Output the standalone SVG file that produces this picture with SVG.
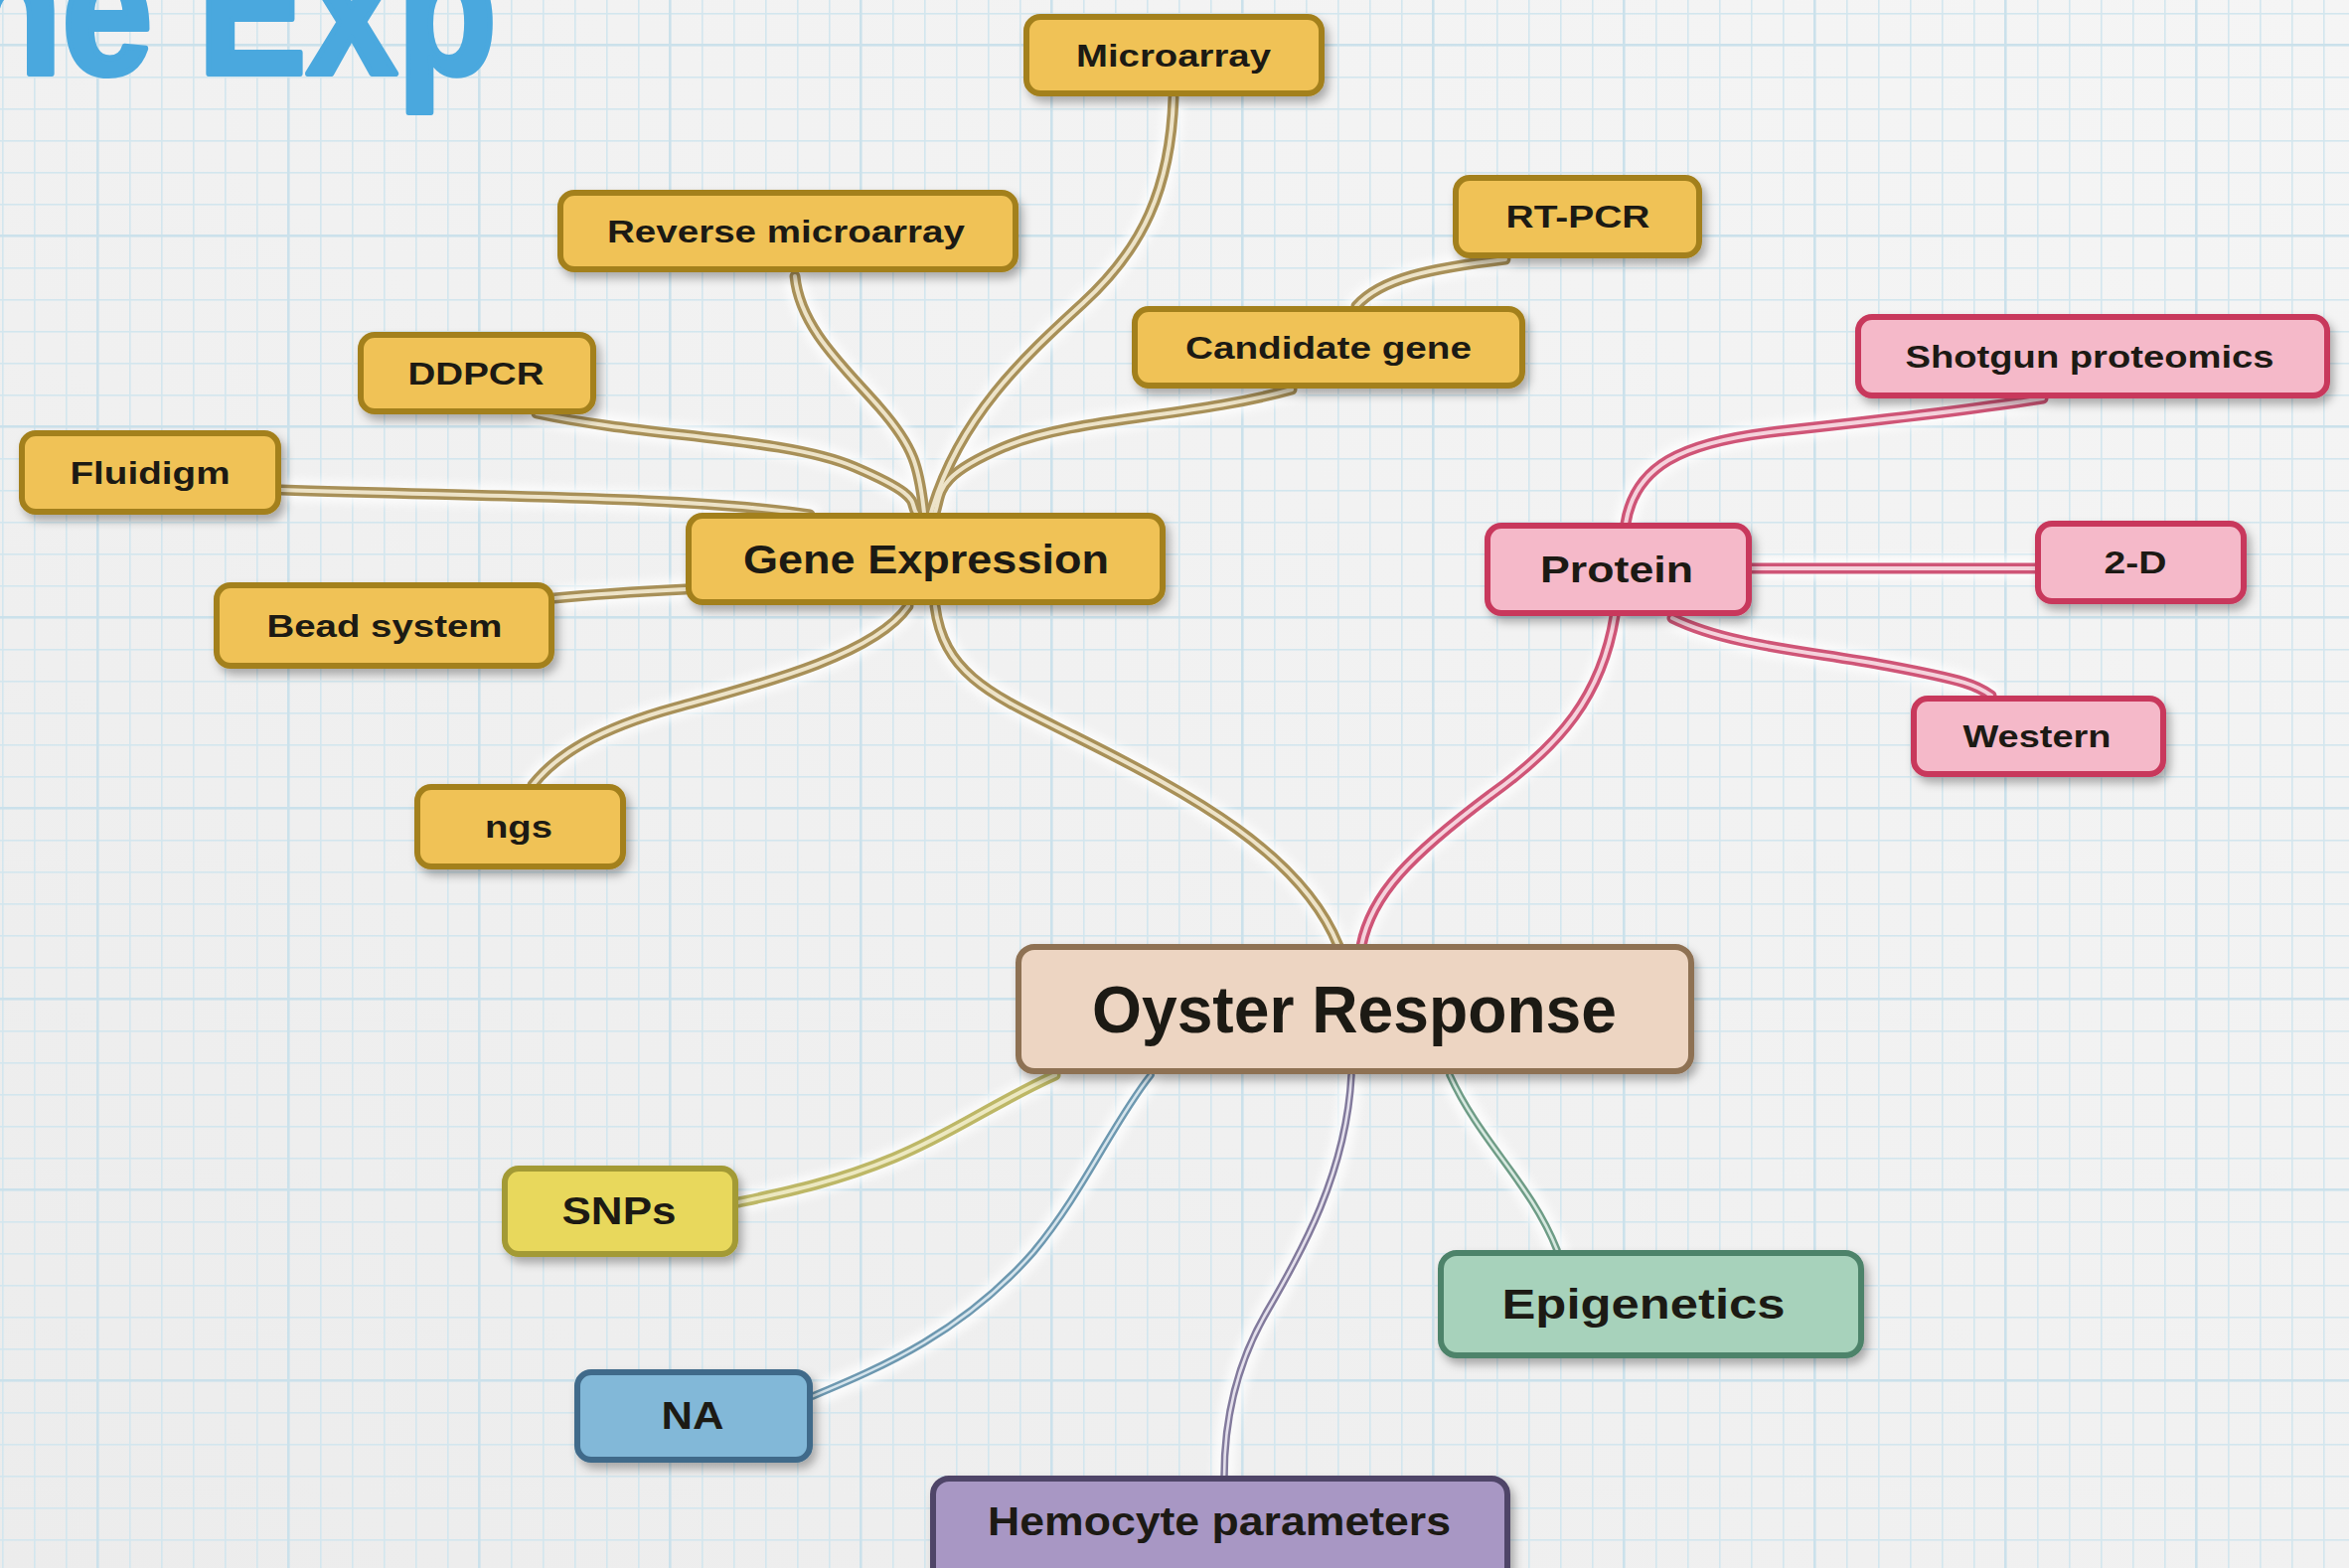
<svg xmlns="http://www.w3.org/2000/svg" width="2364" height="1578" viewBox="0 0 2364 1578">
<defs>
<linearGradient id="bg" x1="0" y1="1" x2="1" y2="0">
<stop offset="0" stop-color="#ececec"/>
<stop offset="0.5" stop-color="#f1f1f1"/>
<stop offset="1" stop-color="#f5f5f5"/>
</linearGradient>
<pattern id="grid" x="97" y="44" width="192" height="192" patternUnits="userSpaceOnUse">
<g fill="#d3e6ee">
<rect x="33" y="0" width="1.6" height="192"/><rect x="65" y="0" width="1.6" height="192"/><rect x="97" y="0" width="1.6" height="192"/><rect x="129" y="0" width="1.6" height="192"/><rect x="161" y="0" width="1.6" height="192"/>
<rect y="33" x="0" height="1.6" width="192"/><rect y="65" x="0" height="1.6" width="192"/><rect y="97" x="0" height="1.6" width="192"/><rect y="129" x="0" height="1.6" width="192"/><rect y="161" x="0" height="1.6" width="192"/>
</g>
<g fill="#cbe1eb">
<rect x="0" y="0" width="2.6" height="192"/><rect x="0" y="0" width="192" height="2.6"/>
</g>
</pattern>
<filter id="shadow" x="-20%" y="-30%" width="140%" height="170%">
<feDropShadow dx="4" dy="6" stdDeviation="5" flood-color="#000" flood-opacity="0.3"/>
</filter>
<filter id="halo" x="-10%" y="-10%" width="120%" height="120%">
<feGaussianBlur stdDeviation="4"/>
</filter>
<style>
.box{stroke-width:6;filter:url(#shadow)}
.y{fill:#f0c256;stroke:#a3801e}
.p{fill:#f5b9c9;stroke:#c8385c}
.o{fill:#edd5c2;stroke:#8e7152}
.s{fill:#e8d85c;stroke:#a39a34}
.b{fill:#82b8d8;stroke:#3f6b8a}
.g{fill:#a7d2bb;stroke:#4e836a}
.v{fill:#a897c4;stroke:#4f4468}
text.l{font-family:"Liberation Sans",Arial,Helvetica,sans-serif;font-weight:bold;fill:#1c1a14;text-anchor:middle}
.halo{fill:none;stroke:#ffffff;stroke-width:22;opacity:0.75;filter:url(#halo);stroke-linecap:round}
.ce{fill:none;stroke-width:11;stroke-linecap:round}
.ci{fill:none;stroke-width:4;stroke-linecap:round}
.ce.t{stroke-width:7.5}
.ci.t{stroke-width:2.6}
.gy{stroke:#a89058}.gyi{stroke:#ede3c8}
.pk{stroke:#cf5577}.pki{stroke:#f5d2dc}
.sn{stroke:#bdb766}.sni{stroke:#ece8c0}
.bl{stroke:#6d98b0}.bli{stroke:#d5e4ec}
.pu{stroke:#827a9c}.pui{stroke:#e4e0ec}
.te{stroke:#6e9c86}.tei{stroke:#d6e8df}
</style>
<path id="e-micro" d="M1181,98 C1178,190 1150,250 1090,305 C1030,360 965,420 937,516"/>
<path id="e-rev" d="M800,278 C805,330 850,370 885,410 S 925,470 930,516"/>
<path id="e-cand" d="M1300,392 C1200,420 1080,420 1010,450 S 948,495 941,516"/>
<path id="e-ddpcr" d="M540,416 C650,440 790,440 860,470 S 915,505 922,516"/>
<path id="e-flui" d="M283,493 C500,500 700,500 815,518"/>
<path id="e-bead" d="M558,602 C600,598 650,595 690,593"/>
<path id="e-ngs" d="M914,610 C880,660 760,690 680,712 S 560,760 536,790"/>
<path id="e-ge" d="M941,610 C950,680 1000,700 1080,740 C1200,800 1310,860 1347,952"/>
<path id="e-rt" d="M1365,308 C1390,280 1440,270 1515,261"/>
<path id="e-shot" d="M1636,527 C1645,470 1690,445 1790,434 C1900,422 2000,410 2056,401"/>
<path id="e-2d" d="M1763,572 L2048,572"/>
<path id="e-west" d="M1683,622 C1740,650 1820,655 1900,670 S 1990,690 2004,700"/>
<path id="e-prot" d="M1625,620 C1612,700 1570,750 1500,800 C1420,860 1380,900 1370,952"/>
<path id="e-snp" d="M1062,1082 C1000,1110 960,1140 900,1165 S 790,1200 743,1210"/>
<path id="e-na" d="M1158,1082 C1120,1130 1090,1200 1040,1260 C970,1340 890,1375 818,1405"/>
<path id="e-hemo" d="M1360,1082 C1355,1180 1310,1260 1275,1320 S 1232,1440 1232,1487"/>
<path id="e-epi" d="M1459,1082 C1490,1150 1540,1190 1567,1258"/>
</defs>

<rect x="0" y="0" width="2364" height="1578" fill="url(#bg)"/>
<rect x="0" y="0" width="2364" height="1578" fill="url(#grid)"/>

<text x="-38" y="74" font-family="Liberation Sans, Arial, sans-serif" font-weight="bold" font-size="190" fill="#4aa8de" stroke="#4aa8de" stroke-width="6" stroke-linejoin="round" textLength="538" lengthAdjust="spacingAndGlyphs">ne Exp</text>

<g id="connectors">
<g class="halo">
<use href="#e-micro"/><use href="#e-rev"/><use href="#e-cand"/><use href="#e-ddpcr"/><use href="#e-flui"/><use href="#e-bead"/><use href="#e-ngs"/><use href="#e-ge"/><use href="#e-rt"/><use href="#e-shot"/><use href="#e-2d"/><use href="#e-west"/><use href="#e-prot"/><use href="#e-snp"/><use href="#e-na"/><use href="#e-hemo"/><use href="#e-epi"/>
</g>
<g class="ce gy"><use href="#e-micro"/><use href="#e-rev"/><use href="#e-cand"/><use href="#e-ddpcr"/><use href="#e-flui"/><use href="#e-bead"/><use href="#e-ngs"/><use href="#e-ge"/><use href="#e-rt"/></g>
<g class="ci gyi"><use href="#e-micro"/><use href="#e-rev"/><use href="#e-cand"/><use href="#e-ddpcr"/><use href="#e-flui"/><use href="#e-bead"/><use href="#e-ngs"/><use href="#e-ge"/><use href="#e-rt"/></g>
<g class="ce pk"><use href="#e-shot"/><use href="#e-2d"/><use href="#e-west"/><use href="#e-prot"/></g>
<g class="ci pki"><use href="#e-shot"/><use href="#e-2d"/><use href="#e-west"/><use href="#e-prot"/></g>
<use href="#e-snp" class="ce sn"/><use href="#e-snp" class="ci sni"/>
<use href="#e-na" class="ce t bl"/><use href="#e-na" class="ci t bli"/>
<use href="#e-hemo" class="ce t pu"/><use href="#e-hemo" class="ci t pui"/>
<use href="#e-epi" class="ce t te"/><use href="#e-epi" class="ci t tei"/>
</g>

<g id="n-microarray"><rect class="box y" x="1033" y="17" width="297" height="77" rx="14"/><text class="l" x="1181" y="67" font-size="31" textLength="196" lengthAdjust="spacingAndGlyphs">Microarray</text></g>
<g id="n-reverse-microarray"><rect class="box y" x="564" y="194" width="458" height="77" rx="14"/><text class="l" x="791" y="244" font-size="31" textLength="360" lengthAdjust="spacingAndGlyphs">Reverse microarray</text></g>
<g id="n-rt-pcr"><rect class="box y" x="1465" y="179" width="245" height="78" rx="14"/><text class="l" x="1588" y="229" font-size="31" textLength="145" lengthAdjust="spacingAndGlyphs">RT-PCR</text></g>
<g id="n-candidate-gene"><rect class="box y" x="1142" y="311" width="390" height="77" rx="14"/><text class="l" x="1337" y="361" font-size="31" textLength="288" lengthAdjust="spacingAndGlyphs">Candidate gene</text></g>
<g id="n-ddpcr"><rect class="box y" x="363" y="337" width="234" height="77" rx="14"/><text class="l" x="479" y="387" font-size="31" textLength="137" lengthAdjust="spacingAndGlyphs">DDPCR</text></g>
<g id="n-fluidigm"><rect class="box y" x="22" y="436" width="258" height="79" rx="14"/><text class="l" x="151" y="487" font-size="31" textLength="161" lengthAdjust="spacingAndGlyphs">Fluidigm</text></g>
<g id="n-gene-expression"><rect class="box y" x="693" y="519" width="477" height="87" rx="14"/><text class="l" x="932" y="577" font-size="40" textLength="368" lengthAdjust="spacingAndGlyphs">Gene Expression</text></g>
<g id="n-bead-system"><rect class="box y" x="218" y="589" width="337" height="81" rx="14"/><text class="l" x="387" y="641" font-size="31" textLength="237" lengthAdjust="spacingAndGlyphs">Bead system</text></g>
<g id="n-ngs"><rect class="box y" x="420" y="792" width="207" height="80" rx="14"/><text class="l" x="522" y="843" font-size="31" textLength="68" lengthAdjust="spacingAndGlyphs">ngs</text></g>

<g id="n-shotgun-proteomics"><rect class="box p" x="1870" y="319" width="472" height="79" rx="14"/><text class="l" x="2103" y="370" font-size="31" textLength="371" lengthAdjust="spacingAndGlyphs">Shotgun proteomics</text></g>
<g id="n-protein"><rect class="box p" x="1497" y="529" width="263" height="88" rx="14"/><text class="l" x="1627" y="586" font-size="37" textLength="154" lengthAdjust="spacingAndGlyphs">Protein</text></g>
<g id="n-2-d"><rect class="box p" x="2051" y="527" width="207" height="78" rx="14"/><text class="l" x="2149" y="577" font-size="31" textLength="63" lengthAdjust="spacingAndGlyphs">2-D</text></g>
<g id="n-western"><rect class="box p" x="1926" y="703" width="251" height="76" rx="14"/><text class="l" x="2050" y="752" font-size="31" textLength="149" lengthAdjust="spacingAndGlyphs">Western</text></g>

<g id="n-oyster-response"><rect class="box o" x="1025" y="953" width="677" height="125" rx="16"/><text class="l" x="1363" y="1039" font-size="66" textLength="528" lengthAdjust="spacingAndGlyphs">Oyster Response</text></g>

<g id="n-snps"><rect class="box s" x="508" y="1176" width="232" height="86" rx="14"/><text class="l" x="623" y="1232" font-size="38" textLength="115" lengthAdjust="spacingAndGlyphs">SNPs</text></g>
<g id="n-epigenetics"><rect class="box g" x="1450" y="1261" width="423" height="103" rx="16"/><text class="l" x="1654" y="1327" font-size="42" textLength="285" lengthAdjust="spacingAndGlyphs">Epigenetics</text></g>
<g id="n-na"><rect class="box b" x="581" y="1381" width="234" height="88" rx="14"/><text class="l" x="697" y="1438" font-size="38" textLength="63" lengthAdjust="spacingAndGlyphs">NA</text></g>
<g id="n-hemocyte-parameters"><rect class="box v" x="939" y="1488" width="578" height="120" rx="16"/><text class="l" x="1227" y="1545" font-size="40" textLength="466" lengthAdjust="spacingAndGlyphs">Hemocyte parameters</text></g>
</svg>
